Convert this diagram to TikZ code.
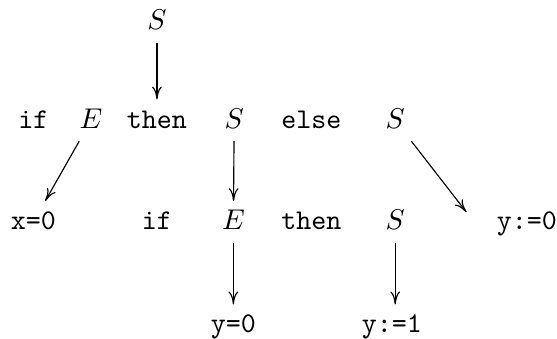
\documentclass[tikz,border=0pt]{standalone}
\usepackage{tikz}
\usetikzlibrary{calc,positioning,arrows.meta}

\begin{document}
\begin{tikzpicture}[>={Computer Modern Rightarrow[length=4.5pt,width=3.4pt]},
  every node/.style={text height=1.5ex, text depth=.25ex},
  kw/.style={font=\ttfamily}]
  \useasboundingbox (0,0) rectangle (6.85,-4.16);
  % root
  \node (top) at (1.93,-0.27) {$S$};
  % first row
  \node[kw] (if1) at (0.41,-1.48) {if};
  \node (e1) at (1.12,-1.48) {$E$};
  \node[kw] (then1) at (1.93,-1.48) {then};
  \node (s1) at (2.88,-1.48) {$S$};
  \node[kw] (else1) at (3.83,-1.48) {else};
  \node (s2) at (4.86,-1.48) {$S$};
  % second row
  \node[kw] (x0) at (0.41,-2.73) {x=0};
  \node[kw] (if2) at (1.93,-2.73) {if};
  \node (e2) at (2.87,-2.73) {$E$};
  \node[kw] (then2) at (3.83,-2.73) {then};
  \node (s3) at (4.86,-2.73) {$S$};
  \node[kw] (yz) at (6.48,-2.73) {y:=0};
  % third row
  \node[kw] (y0) at (2.87,-4.0) {y=0};
  \node[kw] (y1) at (4.82,-4.0) {y:=1};
  % arrows
  \foreach \a/\b in {top/then1, s1/e2, e2/y0}
    \draw[->] (\a) -- (\b);
  \draw[->] (e1) -- (x0);
  \draw[->] (s3) -- (s3 |- y1.north);
  \coordinate (yzTip) at ($(yz.west)+(-0.25,0.12)$);
  \draw[->] (s2) -- (yzTip);
\end{tikzpicture}
\end{document}
